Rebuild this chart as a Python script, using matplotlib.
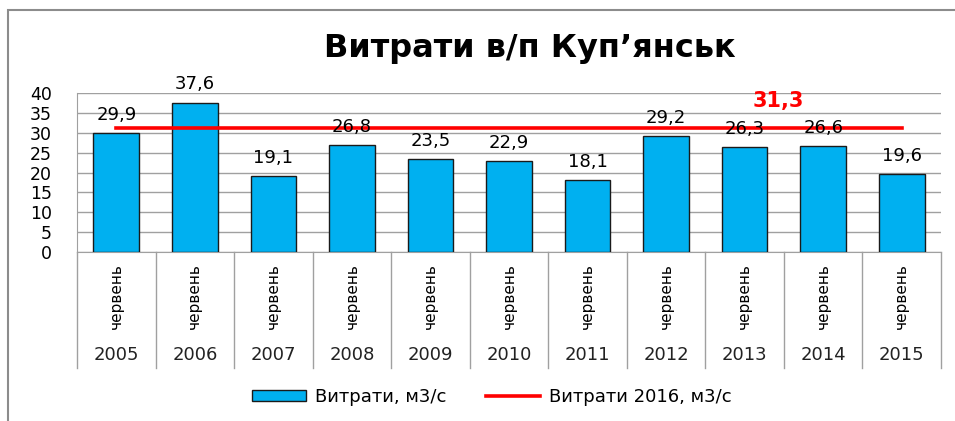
import numpy as np
import matplotlib.pyplot as plt
from matplotlib.patches import Patch, Rectangle
from matplotlib.lines import Line2D

years = ['2005', '2006', '2007', '2008', '2009', '2010', '2011', '2012', '2013', '2014', '2015']
month = 'червень'
flow = [29.9, 37.6, 19.1, 26.8, 23.5, 22.9, 18.1, 29.2, 26.3, 26.6, 19.6]
flow_2016 = 31.3

plt.rcParams['font.family'] = ['DejaVu Sans']

fig = plt.figure(figsize=(9.55, 4.21), dpi=100)
ax = fig.add_axes([77/955, 1-252/421, (941-77)/955, 159/421])

x = np.arange(len(years))
ax.bar(x, flow, width=0.58, color='#00B0F0', edgecolor='#1a1a1a', linewidth=1, zorder=3)
ax.plot([x[0], x[-1]], [flow_2016, flow_2016], color='#FF0000', lw=2.6, zorder=4)

for xi, v in zip(x, flow):
    ax.annotate(f'{v:.1f}'.replace('.', ','), (xi, v), xytext=(0, 13),
                textcoords='offset points', ha='center', va='center',
                fontsize=13, color='black', zorder=5)

ax.text(8.43, 38.0, f'{flow_2016:.1f}'.replace('.', ','), color='#FF0000',
        fontsize=15, fontweight='bold', ha='center', va='center')

ax.set_xlim(-0.5, len(years) - 0.5)
ax.set_ylim(0, 40)
ax.set_yticks(range(0, 41, 5))
ax.tick_params(axis='y', length=0, pad=18, labelsize=12.5)
ax.tick_params(axis='x', length=0, labelbottom=False)
ax.yaxis.grid(True, color='#a0a0a0', lw=1)
ax.set_axisbelow(True)
for s in ['top', 'right']:
    ax.spines[s].set_visible(False)
ax.spines['left'].set_color('#a0a0a0')
ax.spines['bottom'].set_color('#a0a0a0')

# category labels below the axis
tr = ax.get_xaxis_transform()
for xi, yr in zip(x, years):
    ax.text(xi, -0.277, month, rotation=90, ha='center', va='center',
            fontsize=11, transform=tr)
    ax.text(xi, -0.648, yr, ha='center', va='center', fontsize=13,
            color='#222222', transform=tr)
for b in np.arange(-0.5, len(years), 1.0):
    ax.plot([b, b], [0, -0.73], color='#a0a0a0', lw=1, transform=tr, clip_on=False)

fig.text(530/955, 1-48/421, 'Витрати в/п Куп’янськ', fontsize=23, fontweight='bold',
         ha='center', va='center')

handles = [Patch(facecolor='#00B0F0', edgecolor='#1a1a1a', lw=1),
           Line2D([], [], color='#FF0000', lw=2.6)]
fig.legend(handles, ['Витрати, м3/с', 'Витрати 2016, м3/с'], ncol=2, frameon=False,
           loc='center', bbox_to_anchor=(492/955, 1-397/421), fontsize=13,
           handlelength=3.0, handleheight=0.55, columnspacing=2.2, handletextpad=0.5)

fig.patches.append(Rectangle((8/955, -0.05), 1.0, 1-10/421+0.05, transform=fig.transFigure,
                             fill=False, edgecolor='#8c8c8c', lw=1.5))

fig.savefig('out.png', dpi=100)
